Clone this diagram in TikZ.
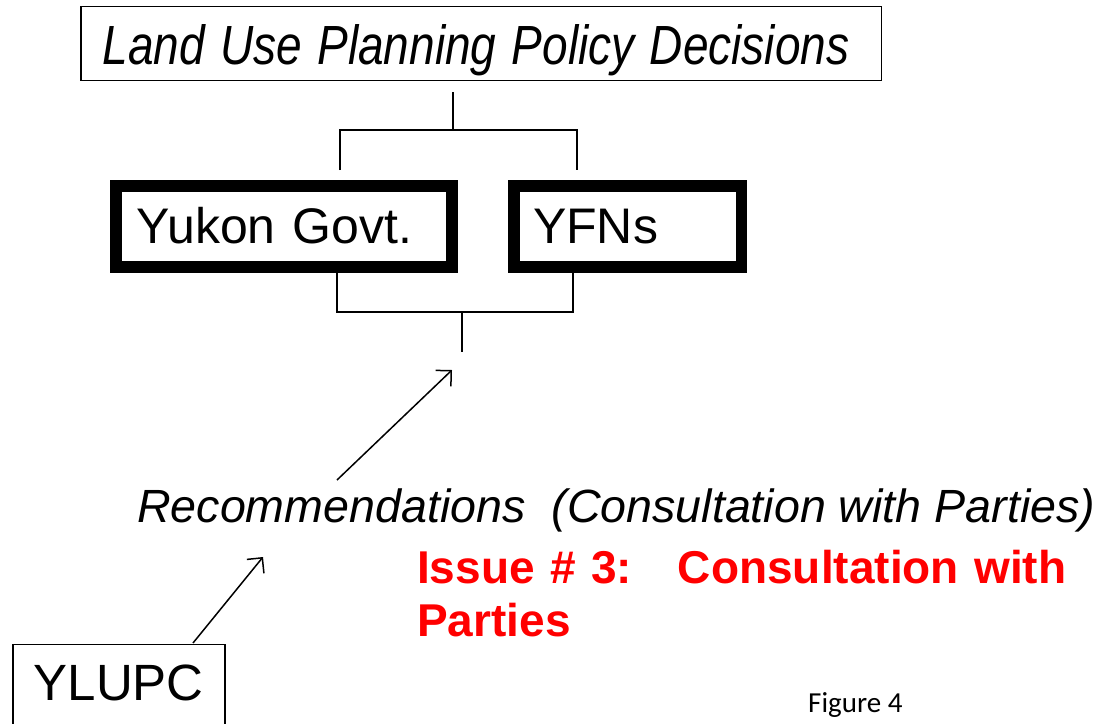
\documentclass[tikz,border=0pt]{standalone}
\usepackage{fontspec}
\setmainfont{Liberation Sans}
\newfontfamily\captionfont{Carlito}
\usetikzlibrary{arrows.meta}
\definecolor{issuered}{RGB}{255,0,0}
\begin{document}
\begin{tikzpicture}[x=1pt,y=-1pt,
  thinbox/.style={draw, line width=1.5pt, anchor=base west, align=left, inner ysep=0pt},
  thickbox/.style={draw, line width=11.5pt, anchor=base west, align=left, inner ysep=0pt},
  link/.style={line width=1.5pt},
  pointer/.style={line width=1.5pt, -{Straight Barb[length=11pt,width=22pt,line width=1.5pt]}},
  big/.style={font=\fontsize{46.6}{53}\selectfont},
  huge/.style={font=\fontsize{50}{58}\selectfont}]
\useasboundingbox (0,0) rectangle (1100,723);
\clip (0,0) rectangle (1100,723);

% decision box at the top (tall italic lettering)
\node[thinbox, text width=756.5pt, inner xsep=22pt, text height=57.5pt, text depth=16.5pt,
      font=\fontsize{46}{53}\selectfont]
  (policy) at (80,64) {\scalebox{1}[1.2]{\itshape Land Use Planning Policy Decisions}};

% the two governments
\node[thickbox, huge, text width=294pt, inner xsep=21pt, text height=57pt, text depth=24pt]
  (yg) at (110,243) {Yukon Govt.};
\node[thickbox, huge, text width=189pt, inner xsep=19.25pt, text height=57pt, text depth=24pt]
  (yfn) at (508,243) {YFNs};

% upper bracket
\coordinate (ptop) at (453,92);
\coordinate (pmid) at (453,130);
\coordinate (pl) at (340,170);
\coordinate (pr) at (577,170);
\draw[link] (ptop) -- (pmid);
\draw[link] (pl) |- (pmid) -| (pr);

% lower bracket
\coordinate (yl) at (337,273);
\coordinate (yr) at (573,273);
\coordinate (jn) at (462,312);
\coordinate (jend) at (462,352);
\draw[link] (yl) |- (jn) -| (yr);
\draw[link] (jn) -- (jend);

% recommendations line
\node[big, anchor=base west, inner sep=0pt] (rec) at (137,522)
  {\itshape Recommendations\ \ (Consultation with Parties)};
\coordinate (a1s) at (337,480);
\coordinate (a1e) at (452,370);
\draw[pointer] (a1s) -- (a1e);

% issue note
\node[anchor=base west, inner sep=0pt, text width=680pt, align=left,
      text=issuered, font=\fontsize{46}{53}\selectfont\bfseries] (issue) at (417,583)
  {Issue \# 3:\ \ \ Consultation with\\Parties};

% planning commission
\node[thinbox, font=\fontsize{51}{58}\selectfont, inner xsep=21pt, text height=55.5pt, text depth=60pt]
  (ylupc) at (12,700) {YLUPC};
\coordinate (a2s) at (193,643);
\coordinate (a2e) at (263,557);
\draw[pointer] (a2s) -- (a2e);

% caption
\node[anchor=base west, inner sep=0pt, font=\captionfont\fontsize{29}{34}\selectfont] (fig) at (808,712) {Figure 4};
\end{tikzpicture}
\end{document}
